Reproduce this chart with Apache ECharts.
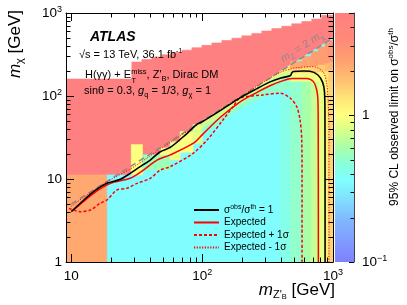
<!DOCTYPE html>
<html>
<head>
<meta charset="utf-8">
<script src="https://cdn.jsdelivr.net/npm/echarts@6/dist/echarts.min.js"></script>
<style>
html,body{margin:0;padding:0;background:#fff;}
#chart{width:407px;height:305px;}
</style>
</head>
<body>
<div id="chart"></div>
<script>
// ===================== DATA =====================
const mZRange = [9.1, 1000];
const mChiRange = [1, 1000];
const limitRange = [0.1, 5];

// tick labels (keyed by log10 of the tick value)
const xTickLabels = {1: '10', 2: '10{sup|2}', 3: '10{sup|3}'};
const yTickLabels = {0: '1', 1: '10', 2: '10{sup|2}', 3: '10{sup|3}'};
const zTickLabels = {'-1': '10{sup|−1}', 0: '1'};
const xMinorTicks = [20,30,40,50,60,70,80,90,200,300,400,500,600,700,800,900];
const yMinorTicks = [2,3,4,5,6,7,8,9,20,30,40,50,60,70,80,90,200,300,400,500,600,700,800,900];
const zMinorTicks = [0.2,0.3,0.4,0.5,0.6,0.7,0.8,0.9,2,3,4];

// upper edge of the scanned region (white above it)
const leftTopY = 160;
const topEdgeX = [29, 34.6, 41.3, 49.2, 58.7, 70, 83.4, 99.5, 118.6, 141.4, 168.6, 201, 239.6, 285.6, 340.5, 405.9, 483.9, 576.9, 687.6, 819.7, 1000];
const topEdgeY = [257, 275, 294, 314, 334, 357, 382, 408, 436, 466, 497, 531, 568, 607, 649, 693, 741, 790, 845, 940];
const excludedValue = 5;   // limit value above the diagonal (saturated)

// lower edge of the saturated region (roughly mZ = 2 mChi)
const diagEdge = [[18.8,11.2],[35,11.2],[35,19.5],[47.7,19.5],[47.7,23.6],[57,23.6],[57,28],[68,28],[68,37],[85,37],[85,45],[100,45],[100,50],[1000,500]];
const bulkValue = 0.36;

// cells: [mZ0, mZ1, mChi0, mChi1, limit]
const lowCornerCell = [9.1, 18.8, 1, 11.2, 2.2];
const diagCells = [
  [28.7, 35, 11.2, 26, 1.0],
  [35, 47.7, 12.8, 19.5, 0.55],
  [47.7, 57, 12.8, 19.5, 0.55],
  [47.7, 57, 19.5, 23.6, 1.0],
  [57, 68, 17, 28, 0.9],
  [68, 85, 21, 37, 1.0],
  [85, 100, 27, 45, 0.85]
];
// bands just below the diagonal for mZ 100-470
const bandEdges = [
  [[100,50],[470,235]],
  [[100,46],[200,92],[330,158],[470,205]],
  [[100,40],[200,82],[330,135],[470,175]],
  [[100,34],[200,72],[330,108],[470,120]]
];
const bandValues = [1.2, 0.75, 0.5];
const cornerCells = [
  [394, 470, 1, 105, 0.42],
  [470, 580, 1, 150, 0.5], [470, 580, 150, 190, 0.9], [470, 580, 190, 215, 1.4], [470, 580, 215, 260, 2.2],
  [580, 680, 1, 150, 0.6], [580, 680, 150, 190, 0.9], [580, 680, 190, 225, 1.4], [580, 680, 225, 300, 2.3],
  [680, 773, 1, 150, 0.72], [680, 773, 150, 190, 0.95], [680, 773, 190, 230, 1.5], [680, 773, 230, 345, 2.4],
  [773, 869, 1, 150, 0.88], [773, 869, 150, 195, 1.05], [773, 869, 195, 240, 1.6], [773, 869, 240, 390, 2.5],
  [869, 930, 1, 150, 1.15], [869, 930, 150, 200, 1.3], [869, 930, 200, 250, 1.8], [869, 930, 250, 435, 2.6],
  [930, 1000, 1, 150, 1.5], [930, 1000, 150, 210, 1.6], [930, 1000, 210, 260, 2.0], [930, 1000, 260, 465, 2.8]
];

// contours [mZ, mChi]
const observed = [[10,4.04],[11.7,5.1],[14.8,7.03],[18.7,8.87],[23.7,9.92],[28.2,11.7],[33.6,14.1],[40.1,16.9],[47.8,21.3],[57,24],[76,35],[91,45.5],[100,49],[140,68],[195,95],[260,122],[330,148],[400,165],[470,175],[485,190],[498,197],[600,200],[667,199],[767,179],[832,147],[861,112],[868,60],[870,1]];
const expected = [[10.4,4.23],[14.8,6.73],[19.9,8.87],[28.2,10.2],[35.6,12.8],[45.1,16.9],[57,19.5],[85.8,27],[100,34],[137,55],[195,85],[260,110],[330,133],[400,150],[484,163],[630,163],[708,149],[751,118],[767,89.5],[771,40],[773,1]];
const expPlus1 = [[9.6,4.43],[11.7,4.04],[14,4.23],[16.6,5.1],[18.7,5.58],[22.3,7.37],[26.6,7.73],[31.8,8.87],[40.1,10.2],[47.8,12.8],[57,14.1],[85.3,20.4],[110,30],[144,51.4],[172,74.3],[195,94.6],[292,103],[394,108],[470,94.6],[528,74.3],[560,51.4],[577,29.5],[580,10],[580,1]];
const expMinus1 = [[10,4.7],[14.8,7.3],[20,9.8],[30,14],[40,19],[60,29],[80,39],[100,49],[200,100],[300,150],[400,195],[480,212],[498,217],[703,226],[839,196],[895,142],[916,89.5],[931,40],[931,1]];
const kinematicLine = [[10,5],[960,480]];

// ===================== RENDERING =====================
const F = "'Liberation Sans', Arial, Helvetica, sans-serif";

const cmapStops = [
  [0.00,[128,128,255]],[0.17,[128,184,255]],[0.25,[128,223,255]],[0.33,[128,255,255]],
  [0.39,[136,255,221]],[0.46,[168,255,168]],[0.53,[216,255,136]],[0.59,[255,255,128]],
  [0.65,[255,232,120]],[0.73,[255,192,112]],[0.81,[255,160,112]],[0.89,[255,138,120]],[1.00,[255,128,128]]
];
const lz0 = Math.log10(limitRange[0]), lz1 = Math.log10(limitRange[1]);
function rgbStr(c){ return 'rgb(' + c.map(Math.round).join(',') + ')'; }
function colorOf(v){
  let t = (Math.log10(v) - lz0) / (lz1 - lz0);
  t = Math.max(0, Math.min(1, t));
  for (let i = 1; i < cmapStops.length; i++) {
    if (t <= cmapStops[i][0]) {
      const a = cmapStops[i-1], b = cmapStops[i];
      const f = (t - a[0]) / (b[0] - a[0]);
      return rgbStr(a[1].map((ch, k) => ch + (b[1][k] - ch) * f));
    }
  }
  return rgbStr(cmapStops[cmapStops.length-1][1]);
}

// build shapes (painter order)
const shapes = [];
function addRect(c){ shapes.push({pts:[[c[0],c[2]],[c[1],c[2]],[c[1],c[3]],[c[0],c[3]]], v:c[4]}); }
(function(){
  const hull = [[mZRange[0],1],[mZRange[0],leftTopY],[topEdgeX[0],leftTopY]];
  for (let k = 0; k < topEdgeY.length; k++) { hull.push([topEdgeX[k], topEdgeY[k]]); hull.push([topEdgeX[k+1], topEdgeY[k]]); }
  hull.push([mZRange[1],1]);
  shapes.push({pts:hull, v:excludedValue});
  addRect(lowCornerCell);
  shapes.push({pts:[[diagEdge[0][0],1],[mZRange[1],1]].concat(diagEdge.slice().reverse()), v:bulkValue});
  diagCells.forEach(addRect);
  for (let b = 0; b < bandValues.length; b++) {
    shapes.push({pts: bandEdges[b].concat(bandEdges[b+1].slice().reverse()), v: bandValues[b]});
  }
  cornerCells.forEach(addRect);
})();

function logLabel(map){
  return function(v){
    const l = Math.log10(v); const r = Math.round(l);
    if (Math.abs(l - r) > 1e-6) return '';
    return map[r] !== undefined ? map[r] : '';
  };
}
const supRich = {sup:{fontSize:9, fontFamily:F, color:'#000', verticalAlign:'top', lineHeight:9}};

const chart = echarts.init(document.getElementById('chart'), null, {renderer:'canvas'});
const lineBase = {type:'line', xAxisIndex:0, yAxisIndex:0, symbol:'none', showSymbol:false, silent:true, clip:true, animation:false, z:4};

const option = {
  animation:false,
  backgroundColor:'#fff',
  grid:[
    {left:66, top:13, right:74, bottom:43, containLabel:false},
    {left:335, top:13, width:19, bottom:43, containLabel:false}
  ],
  xAxis:[
    {type:'log', gridIndex:0, min:mZRange[0], max:mZRange[1], position:'bottom', z:5,
     axisLine:{show:true, onZero:false, lineStyle:{color:'#000', width:1}},
     axisTick:{show:true, inside:true, length:8, lineStyle:{color:'#000'}},
     splitLine:{show:false},
     axisLabel:{show:true, showMinLabel:false, margin:6, fontSize:13.5, fontFamily:F, color:'#000', lineHeight:16, formatter:logLabel(xTickLabels), rich:supRich}},
    {type:'log', gridIndex:0, min:mZRange[0], max:mZRange[1], position:'top', z:5,
     axisLine:{show:true, onZero:false, lineStyle:{color:'#000', width:1}},
     axisTick:{show:true, inside:true, length:8, lineStyle:{color:'#000'}},
     splitLine:{show:false}, axisLabel:{show:false}},
    {type:'value', gridIndex:1, min:0, max:1, show:false}
  ],
  yAxis:[
    {type:'log', gridIndex:0, min:mChiRange[0], max:mChiRange[1], position:'left', z:5,
     axisLine:{show:true, onZero:false, lineStyle:{color:'#000', width:1}},
     axisTick:{show:true, inside:true, length:8, lineStyle:{color:'#000'}},
     splitLine:{show:false},
     axisLabel:{show:true, margin:4, fontSize:13.5, fontFamily:F, color:'#000', lineHeight:16, formatter:logLabel(yTickLabels), rich:supRich}},
    {type:'log', gridIndex:0, min:mChiRange[0], max:mChiRange[1], position:'right', z:5,
     axisLine:{show:true, onZero:false, lineStyle:{color:'#000', width:1}},
     axisTick:{show:true, inside:true, length:8, lineStyle:{color:'#000'}},
     splitLine:{show:false}, axisLabel:{show:false}},
    {type:'log', gridIndex:1, min:limitRange[0], max:limitRange[1], position:'right', z:5,
     axisLine:{show:true, onZero:false, lineStyle:{color:'#444', width:1}},
     axisTick:{show:true, inside:true, length:5, lineStyle:{color:'#000'}},
     splitLine:{show:false},
     axisLabel:{show:true, margin:8, fontSize:13.5, fontFamily:F, color:'#000', lineHeight:16, formatter:logLabel(zTickLabels), rich:supRich}}
  ],
  legend:{
    orient:'vertical', left:188, top:199, itemWidth:25, itemHeight:12, itemGap:0.5,
    selectedMode:false,
    itemStyle:{opacity:0, borderWidth:0},
    data:['σobs/σth = 1','Expected','Expected + 1σ','Expected - 1σ'],
    formatter:function(n){ return n.indexOf('obs') >= 0 ? '{n|σ}{sup|obs}{n|/σ}{sup|th}{n| = 1}' : n; },
    textStyle:{fontSize:10, fontFamily:F, color:'#000', lineHeight:12,
      rich:{n:{fontSize:10, fontFamily:F, color:'#000', lineHeight:12}, sup:{fontSize:7, fontFamily:F, color:'#000', verticalAlign:'top', lineHeight:6}}}
  },
  series:[
    {type:'custom', name:'map', coordinateSystem:'cartesian2d', xAxisIndex:0, yAxisIndex:0, clip:true, silent:true, z:1,
     data: shapes.map((s,i) => [s.pts[0][0], s.pts[0][1], i]),
     encode:{x:0, y:1},
     renderItem:function(params, api){
       const s = shapes[params.dataIndex];
       const pts = s.pts.map(p => api.coord(p));
       const c = colorOf(s.v);
       return {type:'polygon', shape:{points:pts}, style:{fill:c, stroke:c, lineWidth:0.6}};
     }},
    {type:'custom', name:'minorTicks', coordinateSystem:'cartesian2d', xAxisIndex:0, yAxisIndex:0, clip:false, silent:true, z:6,
     data: xMinorTicks.map(v => [v, 1, 0]).concat(yMinorTicks.map(v => [10, v, 1])),
     encode:{x:0, y:1},
     renderItem:function(params, api){
       const cs = params.coordSys; const kind = api.value(2); const L = 4.5;
       const st = {stroke:'#000', lineWidth:1};
       if (kind === 0) {
         const x = Math.round(api.coord([api.value(0), 1])[0]) + 0.5;
         const yb = cs.y + cs.height, yt = cs.y;
         return {type:'group', children:[
           {type:'line', shape:{x1:x, y1:yb, x2:x, y2:yb-L}, style:st},
           {type:'line', shape:{x1:x, y1:yt, x2:x, y2:yt+L}, style:st}]};
       }
       const y = Math.round(api.coord([10, api.value(1)])[1]) + 0.5;
       const xl = cs.x, xr = cs.x + cs.width;
       return {type:'group', children:[
         {type:'line', shape:{x1:xl, y1:y, x2:xl+L, y2:y}, style:st},
         {type:'line', shape:{x1:xr, y1:y, x2:xr-L, y2:y}, style:st}]};
     }},
    {type:'custom', name:'colorbar', coordinateSystem:'cartesian2d', xAxisIndex:2, yAxisIndex:2, clip:false, silent:true, z:1,
     data:[[0.5, 1]],
     renderItem:function(params, api){
       const p0 = api.coord([0, limitRange[0]]), p1 = api.coord([1, limitRange[1]]);
       const grad = new echarts.graphic.LinearGradient(0, 1, 0, 0, cmapStops.map(s => ({offset:s[0], color:rgbStr(s[1])})));
       return {type:'rect', shape:{x:p0[0], y:p1[1], width:p1[0]-p0[0], height:p0[1]-p1[1]}, style:{fill:grad}};
     }},
    {type:'custom', name:'cbTicks', coordinateSystem:'cartesian2d', xAxisIndex:2, yAxisIndex:2, clip:false, silent:true, z:6,
     data: zMinorTicks.map(v => [1, v]),
     renderItem:function(params, api){
       const p = api.coord([1, api.value(1)]);
       const y = Math.round(p[1]) + 0.5;
       return {type:'line', shape:{x1:p[0], y1:y, x2:p[0]-3.5, y2:y}, style:{stroke:'#000', lineWidth:1}};
     }},
    Object.assign({}, lineBase, {name:'kin', data:kinematicLine, smooth:false, lineStyle:{color:'#8a8a8a', width:1.5, type:[6,4]}, z:3}),
    Object.assign({}, lineBase, {name:'Expected - 1σ', data:expMinus1, smooth:0.3, lineStyle:{color:'#ff0000', width:1, type:[1.2,1.5]}}),
    Object.assign({}, lineBase, {name:'Expected + 1σ', data:expPlus1, smooth:0.3, lineStyle:{color:'#ff0000', width:1.5, type:[3,2]}}),
    Object.assign({}, lineBase, {name:'Expected', data:expected, smooth:0.3, lineStyle:{color:'#ff0000', width:1.5}}),
    Object.assign({}, lineBase, {name:'σobs/σth = 1', data:observed, smooth:0.3, lineStyle:{color:'#000000', width:1.6}})
  ],
  graphic:[
    {type:'text', x:90, y:37, z:10, style:{text:'ATLAS', fontSize:14, fontWeight:'bold', fontStyle:'italic', fontFamily:F, fill:'#000', align:'left', verticalAlign:'middle'}},
    {type:'text', x:79, y:55, z:10, style:{text:'√s = 13 TeV, 36.1 fb{sup|-1}', fontSize:11, fontFamily:F, fill:'#000', align:'left', verticalAlign:'middle', lineHeight:14,
      rich:{sup:{fontSize:7, fontFamily:F, fill:'#000', verticalAlign:'top', lineHeight:7}}}},
    {type:'text', x:85, y:75, z:10, style:{text:'H(γγ) + E{sup|miss}, Z\'{sub|B}, Dirac DM', fontSize:11, fontFamily:F, fill:'#000', align:'left', verticalAlign:'middle', lineHeight:15,
      rich:{sup:{fontSize:7.5, fontFamily:F, fill:'#000', verticalAlign:'top', lineHeight:7}, sub:{fontSize:7.5, fontFamily:F, fill:'#000', verticalAlign:'bottom', lineHeight:5}}}},
    {type:'text', x:131.5, y:80.5, z:10, style:{text:'T', fontSize:7.5, fontFamily:F, fill:'#000', align:'left', verticalAlign:'middle'}},
    {type:'text', x:84, y:91, z:10, style:{text:'sinθ = 0.3, {i|g}{sub|q} = 1/3, {i|g}{sub|χ} = 1', fontSize:11, fontFamily:F, fill:'#000', align:'left', verticalAlign:'middle', lineHeight:15,
      rich:{i:{fontSize:11, fontStyle:'italic', fontFamily:F, fill:'#000', lineHeight:15}, sub:{fontSize:7.5, fontFamily:F, fill:'#000', verticalAlign:'bottom', lineHeight:5}}}},
    {type:'text', x:302, y:47, rotation:0.565, z:10, style:{text:'{i|m}{sub|Z} = 2 {i|m}{sub|χ}', fontSize:11, fontFamily:F, fill:'#8a8a8a', align:'center', verticalAlign:'middle', lineHeight:15,
      rich:{i:{fontSize:11, fontStyle:'italic', fontFamily:F, fill:'#8a8a8a', lineHeight:15}, sub:{fontSize:7.5, fontFamily:F, fill:'#8a8a8a', verticalAlign:'bottom', lineHeight:5}}}},
    {type:'text', x:15, y:10, rotation:Math.PI/2, z:10, style:{text:'{i|m}{sub|χ} [GeV]', fontSize:17, fontFamily:F, fill:'#000', align:'right', verticalAlign:'middle', lineHeight:21,
      rich:{i:{fontSize:17, fontStyle:'italic', fontFamily:F, fill:'#000', lineHeight:21}, sub:{fontSize:11, fontFamily:F, fill:'#000', verticalAlign:'bottom', lineHeight:6}}}},
    {type:'text', x:335, y:290, z:10, style:{text:'{i|m}{sub|Z\'}{ss|B} [GeV]', fontSize:17, fontFamily:F, fill:'#000', align:'right', verticalAlign:'middle', lineHeight:21,
      rich:{i:{fontSize:17, fontStyle:'italic', fontFamily:F, fill:'#000', lineHeight:21}, sub:{fontSize:11, fontFamily:F, fill:'#000', verticalAlign:'bottom', lineHeight:7}, ss:{fontSize:7.5, fontFamily:F, fill:'#000', verticalAlign:'bottom', lineHeight:1}}}},
    {type:'text', x:395, y:117, rotation:Math.PI/2, z:10, style:{text:'95% CL observed limit on σ{sup|obs}/σ{sup|th}', fontSize:12, fontFamily:F, fill:'#000', align:'center', verticalAlign:'middle', lineHeight:16,
      rich:{sup:{fontSize:8, fontFamily:F, fill:'#000', verticalAlign:'top', lineHeight:7}}}}
  ]
};
chart.setOption(option);
</script>
</body>
</html>
